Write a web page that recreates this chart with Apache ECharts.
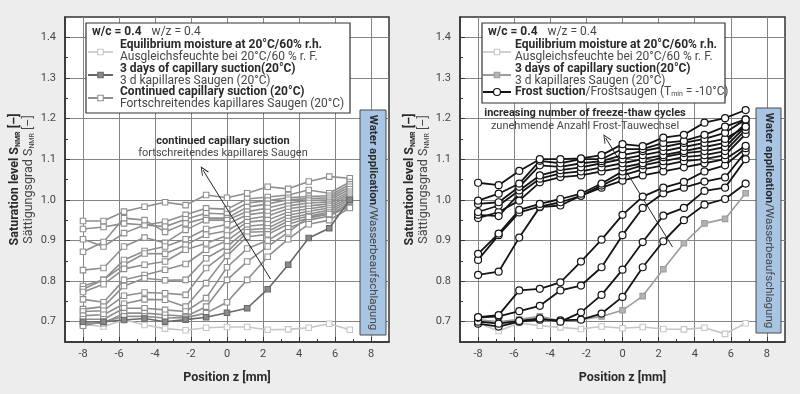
<!DOCTYPE html>
<html><head><meta charset="utf-8">
<script src="https://cdn.jsdelivr.net/npm/echarts@6/dist/echarts.min.js"></script>
<style>html,body{margin:0;padding:0;background:#ecedec;}#c{width:800px;height:394px;}</style>
</head><body><div id="c"></div>
<script>
// ---------- data ----------
const positions = [-8, -6.86, -5.72, -4.58, -3.44, -2.3, -1.16, 0, 1.12, 2.26, 3.4, 4.54, 5.68, 6.82];
const xMajorTicks = [-8, -6, -4, -2, 0, 2, 4, 6, 8];
const xMinorTicks = [-7, -5, -3, -1, 1, 3, 5, 7];
const yMajorTicks = [0.7, 0.8, 0.9, 1.0, 1.1, 1.2, 1.3, 1.4];
const yMinorTicks = [0.75, 0.85, 0.95, 1.05, 1.15, 1.25, 1.35];

// left panel
const leftEquilibrium = [0.693, 0.688, 0.705, 0.692, 0.683, 0.679, 0.685, 0.687, 0.687, 0.680, 0.681, 0.685, 0.695, 0.680];
const leftThreeDays = [0.700, 0.700, 0.704, 0.708, 0.700, 0.705, 0.711, 0.722, 0.733, 0.780, 0.840, 0.906, 0.930, 1.000];
const leftContinued = [
  [0.948, 0.948, 0.971, 0.983, 0.994, 0.987, 1.012, 1.005, 1.016, 1.032, 1.027, 1.045, 1.057, 1.053],
  [0.928, 0.933, 0.942, 0.938, 0.946, 0.963, 0.979, 0.977, 1.002, 1.007, 1.012, 1.024, 1.016, 1.044],
  [0.903, 0.885, 0.918, 0.938, 0.934, 0.952, 0.967, 0.965, 0.992, 0.998, 1.005, 1.008, 1.010, 1.038],
  [0.872, 0.896, 0.955, 0.950, 0.921, 0.942, 0.955, 0.955, 0.982, 0.990, 1.000, 1.003, 1.005, 1.032],
  [0.827, 0.832, 0.885, 0.907, 0.894, 0.926, 0.950, 0.950, 0.971, 0.980, 0.992, 0.998, 1.000, 1.026],
  [0.788, 0.803, 0.852, 0.874, 0.885, 0.903, 0.928, 0.940, 0.963, 0.970, 0.985, 0.992, 0.995, 1.020],
  [0.780, 0.803, 0.840, 0.868, 0.867, 0.889, 0.914, 0.924, 0.952, 0.960, 0.978, 0.985, 0.990, 1.015],
  [0.773, 0.792, 0.830, 0.840, 0.848, 0.877, 0.893, 0.912, 0.945, 0.950, 0.970, 0.978, 0.985, 1.010],
  [0.755, 0.748, 0.803, 0.815, 0.828, 0.842, 0.877, 0.899, 0.935, 0.940, 0.962, 0.972, 0.980, 1.005],
  [0.731, 0.737, 0.788, 0.807, 0.802, 0.803, 0.856, 0.885, 0.926, 0.930, 0.955, 0.965, 0.975, 1.000],
  [0.725, 0.727, 0.764, 0.772, 0.770, 0.766, 0.832, 0.871, 0.920, 0.922, 0.948, 0.960, 0.970, 0.995],
  [0.715, 0.717, 0.744, 0.755, 0.754, 0.737, 0.795, 0.862, 0.909, 0.915, 0.940, 0.955, 0.965, 0.990],
  [0.706, 0.706, 0.733, 0.733, 0.729, 0.725, 0.758, 0.834, 0.880, 0.900, 0.930, 0.950, 0.960, 0.985],
  [0.696, 0.696, 0.721, 0.721, 0.717, 0.713, 0.737, 0.803, 0.848, 0.885, 0.920, 0.958, 0.965, 0.982],
  [0.690, 0.700, 0.713, 0.713, 0.709, 0.710, 0.721, 0.748, 0.803, 0.860, 0.903, 0.940, 0.950, 0.980]
];

// right panel
const rightEquilibrium = [0.697, 0.677, 0.697, 0.690, 0.686, 0.682, 0.688, 0.684, 0.687, 0.682, 0.681, 0.685, 0.670, 0.696];
const rightThreeDays = [0.705, 0.700, 0.706, 0.713, 0.702, 0.705, 0.713, 0.728, 0.763, 0.829, 0.893, 0.942, 0.953, 1.016];
const rightFrost = [
  [0.695, 0.688, 0.700, 0.705, 0.703, 0.705, 0.720, 0.761, 0.834, 0.898, 0.950, 0.988, 1.002, 1.040],
  [0.700, 0.695, 0.702, 0.708, 0.700, 0.723, 0.766, 0.828, 0.896, 0.961, 0.980, 1.022, 1.030, 1.100],
  [0.710, 0.713, 0.726, 0.739, 0.777, 0.789, 0.834, 0.913, 0.980, 1.016, 1.030, 1.045, 1.055, 1.118],
  [0.711, 0.716, 0.777, 0.781, 0.797, 0.848, 0.902, 0.963, 1.008, 1.030, 1.044, 1.070, 1.085, 1.127],
  [0.815, 0.823, 0.907, 0.982, 0.986, 1.010, 1.030, 1.047, 1.060, 1.070, 1.080, 1.090, 1.100, 1.133],
  [0.852, 0.913, 0.969, 0.983, 0.994, 1.010, 1.035, 1.060, 1.075, 1.085, 1.095, 1.100, 1.110, 1.162],
  [0.867, 0.917, 0.975, 0.990, 1.002, 1.015, 1.040, 1.070, 1.085, 1.095, 1.105, 1.110, 1.120, 1.172],
  [0.955, 0.970, 0.998, 1.043, 1.056, 1.060, 1.070, 1.080, 1.090, 1.105, 1.115, 1.120, 1.130, 1.180],
  [0.963, 0.960, 1.015, 1.052, 1.065, 1.070, 1.080, 1.090, 1.100, 1.110, 1.120, 1.130, 1.140, 1.188],
  [0.970, 0.986, 1.023, 1.060, 1.073, 1.080, 1.090, 1.100, 1.110, 1.120, 1.130, 1.140, 1.150, 1.180],
  [0.990, 0.994, 1.032, 1.085, 1.081, 1.090, 1.095, 1.110, 1.120, 1.130, 1.140, 1.150, 1.165, 1.198],
  [0.998, 1.015, 1.040, 1.096, 1.090, 1.100, 1.100, 1.125, 1.125, 1.140, 1.145, 1.160, 1.180, 1.198],
  [1.042, 1.036, 1.071, 1.100, 1.100, 1.102, 1.110, 1.137, 1.132, 1.153, 1.160, 1.190, 1.201, 1.221]
];

// annotation arrows (data coordinates)
const leftArrow = [[2.42, 0.805], [-1.33, 1.073]];
const rightArrow = [[2.77, 0.884], [-0.93, 1.152]];

// ---------- chart ----------
const F = 'Roboto';
const C_EQ = '#c6c6c6', C_CONT = '#8e8e8e', C_3D_L = '#686868', C_3D_R = '#9c9c9c', C_BLK = '#141414';
const TXT_B = '#2a2a2a', TXT_N = '#474747';
const LG = 12; // legend font size
const pts = vals => positions.map((x, i) => [x, vals[i]]);
const chevron = 'path://M5,0 L10,10 L8.8,10 L5,2.4 L1.2,10 L0,10 Z';

function sqSeries(vals, gi, line, fill, border, width, z) {
  return {
    type: 'line', xAxisIndex: gi * 2, yAxisIndex: gi * 2, data: pts(vals),
    symbol: 'rect', symbolSize: 5.5, showSymbol: true, z: z,
    lineStyle: { color: line, width: width },
    itemStyle: { color: fill, borderColor: border, borderWidth: 1.1 },
    emphasis: { disabled: true }, silent: true
  };
}
function circSeries(vals) {
  return {
    type: 'line', xAxisIndex: 2, yAxisIndex: 2, data: pts(vals),
    symbol: 'circle', symbolSize: 7, z: 5,
    lineStyle: { color: C_BLK, width: 1.8 },
    itemStyle: { color: '#fff', borderColor: C_BLK, borderWidth: 1.2 },
    emphasis: { disabled: true }, silent: true
  };
}
function arrowMark(a) {
  return {
    silent: true, animation: false,
    symbol: ['none', chevron], symbolSize: [8, 9],
    lineStyle: { color: '#222', width: 1, type: 'solid' },
    label: { show: false }, emphasis: { disabled: true },
    data: [[{ coord: a[0] }, { coord: a[1] }]]
  };
}

const yRich = {
  b: { fontFamily: F, fontWeight: 'bold', fontSize: 12.5, color: TXT_B, lineHeight: 14 },
  bs: { fontFamily: F, fontWeight: 'bold', fontSize: 7, color: TXT_B, lineHeight: 7, verticalAlign: 'bottom' },
  n: { fontFamily: F, fontSize: 12.5, color: TXT_N, lineHeight: 14 },
  ns: { fontFamily: F, fontSize: 7, color: TXT_N, lineHeight: 7, verticalAlign: 'bottom' }
};
const yName = '{b|Saturation level S}{bs|NMR}{b| [–]}\n{n|Sättigungsgrad S}{ns|NMR}{n| [–]}';

function xMain(gi) {
  return {
    type: 'value', gridIndex: gi, min: -9, max: 9, position: 'bottom',
    name: 'Position z [mm]', nameLocation: 'middle', nameGap: 29,
    nameTextStyle: { fontFamily: F, fontWeight: 'bold', fontSize: 12.5, color: TXT_B },
    axisLine: { show: true, onZero: false, lineStyle: { color: '#333', width: 1.5 } },
    axisTick: { show: true, inside: true, length: 5, customValues: xMajorTicks, lineStyle: { color: '#333' } },
    axisLabel: { customValues: xMajorTicks, fontFamily: F, fontSize: 11, color: TXT_N, margin: 7 },
    splitLine: { show: true, lineStyle: { color: '#858585', width: 1 } }
  };
}
function xMinor(gi) {
  return {
    type: 'value', gridIndex: gi, min: -9, max: 9, position: 'bottom',
    axisLine: { show: false, onZero: false }, splitLine: { show: false }, axisLabel: { show: false },
    axisTick: { show: true, inside: true, length: 3, customValues: xMinorTicks, lineStyle: { color: '#333' } }
  };
}
function yMain(gi) {
  return {
    type: 'value', gridIndex: gi, min: 0.65, max: 1.45, position: 'left',
    name: yName, nameLocation: 'middle', nameGap: 29, nameRotate: 90,
    nameTextStyle: { rich: yRich },
    axisLine: { show: true, onZero: false, lineStyle: { color: '#333', width: 1.5 } },
    axisTick: { show: true, inside: true, length: 5, customValues: yMajorTicks, lineStyle: { color: '#333' } },
    axisLabel: { customValues: yMajorTicks, fontFamily: F, fontSize: 11, color: TXT_N, margin: 9,
      formatter: v => v.toFixed(1) },
    splitLine: { show: true, lineStyle: { color: '#858585', width: 1 } }
  };
}
function yMinor(gi) {
  return {
    type: 'value', gridIndex: gi, min: 0.65, max: 1.45, position: 'left',
    axisLine: { show: false, onZero: false }, splitLine: { show: false }, axisLabel: { show: false },
    axisTick: { show: true, inside: true, length: 3, customValues: yMinorTicks, lineStyle: { color: '#333' } }
  };
}

const series = [];
const eqL = sqSeries(leftEquilibrium, 0, C_EQ, '#fff', C_EQ, 1.6, 2);
eqL.markLine = arrowMark(leftArrow);
series.push(eqL);
leftContinued.forEach(v => series.push(sqSeries(v, 0, C_CONT, '#fff', C_CONT, 1.6, 3)));
series.push(sqSeries(leftThreeDays, 0, C_3D_L, '#8a8a8a', C_3D_L, 1.6, 4));
const eqR = sqSeries(rightEquilibrium, 1, C_EQ, '#fff', C_EQ, 1.6, 2);
eqR.markLine = arrowMark(rightArrow);
series.push(eqR);
series.push(sqSeries(rightThreeDays, 1, C_3D_R, '#b4b4b4', C_3D_R, 1.6, 3));
rightFrost.forEach(v => series.push(circSeries(v)));

// ---------- graphic (legends, annotations, boxes) ----------
const tb = (t, x, y, size) => ({ type: 'text', silent: true, z: 100, style: { text: t, x, y, fill: TXT_B, font: `bold ${size || LG}px ${F}`, verticalAlign: 'middle', textVerticalAlign: 'middle' } });
const tn = (t, x, y, size) => ({ type: 'text', silent: true, z: 100, style: { text: t, x, y, fill: TXT_N, font: `${size || LG}px ${F}`, verticalAlign: 'middle', textVerticalAlign: 'middle' } });
function richText(t, x, y, rich, align) {
  return { type: 'text', silent: true, z: 100, style: { text: t, x, y, rich, align: align || 'left', textAlign: align || 'left', verticalAlign: 'middle', textVerticalAlign: 'middle' } };
}
const mkRich = size => ({
  b: { fontFamily: F, fontWeight: 'bold', fontSize: size, fill: TXT_B, color: TXT_B },
  n: { fontFamily: F, fontSize: size, fill: TXT_N, color: TXT_N },
  s: { fontFamily: F, fontSize: 7, fill: TXT_N, color: TXT_N, lineHeight: 7, verticalAlign: 'bottom' }
});
const lgRich = mkRich(LG);
const anRich = mkRich(11);
function sample(x1, x2, y, color, width, kind, fill) {
  const els = [{ type: 'line', silent: true, z: 100, shape: { x1, y1: y, x2, y2: y }, style: { stroke: color, lineWidth: width } }];
  const cx = (x1 + x2) / 2;
  if (kind === 'rect') els.push({ type: 'rect', silent: true, z: 101, shape: { x: cx - 2.75, y: y - 2.75, width: 5.5, height: 5.5 }, style: { fill: fill, stroke: color, lineWidth: 1.1 } });
  else els.push({ type: 'circle', silent: true, z: 101, shape: { cx, cy: y, r: 3.5 }, style: { fill: '#fff', stroke: color, lineWidth: 1.2 } });
  return els;
}
function waterBox(x, y, w, h) {
  return [
    { type: 'rect', silent: true, z: 90, shape: { x, y, width: w, height: h }, style: { fill: '#a8c6e4', stroke: '#4a4a4a', lineWidth: 1 } },
    { type: 'text', silent: true, z: 91, x: x + w / 2, y: y + h / 2, rotation: -Math.PI / 2,
      style: { text: '{b|Water application}{n|/Wasserbeaufschlagung}', x: 0, y: 0, align: 'center', textAlign: 'center', verticalAlign: 'middle', textVerticalAlign: 'middle', rich: mkRich(11.5) } }
  ];
}

const graphic = [].concat(
  // left legend
  [{ type: 'rect', silent: true, z: 99, shape: { x: 86, y: 23, width: 264, height: 90 }, style: { fill: '#fff', stroke: '#333', lineWidth: 1.2 } }],
  [richText('{b|w/c = 0.4}   {n|w/z = 0.4}', 92, 32, lgRich)],
  sample(88, 113, 52, C_EQ, 1.6, 'rect', '#fff'),
  [tb('Equilibrium moisture at 20°C/60% r.h.', 120, 45), tn('Ausgleichsfeuchte bei 20°C/60 % r. F.', 120, 57)],
  sample(88, 113, 75, C_3D_L, 2, 'rect', '#8a8a8a'),
  [tb('3 days of capillary suction(20°C)', 120, 69), tn('3 d kapillares Saugen (20°C)', 120, 81)],
  sample(88, 113, 98, C_CONT, 2, 'rect', '#fff'),
  [tb('Continued capillary suction (20°C)', 120, 92), tn('Fortschreitendes kapillares Saugen (20°C)', 120, 104)],
  // right legend
  [{ type: 'rect', silent: true, z: 99, shape: { x: 482, y: 23, width: 243, height: 80 }, style: { fill: '#fff', stroke: '#333', lineWidth: 1.2 } }],
  [richText('{b|w/c = 0.4}   {n|w/z = 0.4}', 488, 32, lgRich)],
  sample(483, 511, 52, C_EQ, 1.6, 'rect', '#fff'),
  [tb('Equilibrium moisture at 20°C/60% r.h.', 515, 45), tn('Ausgleichsfeuchte bei 20°C/60 % r. F.', 515, 57)],
  sample(483, 511, 75, C_3D_R, 2, 'rect', '#b4b4b4'),
  [tb('3 days of capillary suction(20°C)', 515, 69), tn('3 d kapillares Saugen (20°C)', 515, 81)],
  sample(483, 511, 92, C_BLK, 2, 'circle'),
  [richText('{b|Frost suction}{n|/Frostsaugen (T}{s|min}{n| = -10°C)}', 515, 92, lgRich)],
  // annotations
  [richText('{b|continued capillary suction}', 223, 141, anRich, 'center'),
   richText('{n|fortschreitendes kapillares Saugen}', 223, 153, anRich, 'center'),
   richText('{b|increasing number of freeze-thaw cycles}', 585, 113, anRich, 'center'),
   richText('{n|zunehmende Anzahl Frost-Tauwechsel}', 585, 126, anRich, 'center')],
  waterBox(360, 110, 26, 225),
  waterBox(756, 108, 25, 225)
);

const chart = echarts.init(document.getElementById('c'), null, { renderer: 'canvas' });
chart.setOption({
  animation: false,
  backgroundColor: '#ecedec',
  grid: [
    { left: 65, top: 17, width: 324, height: 325, show: true, backgroundColor: '#fff', borderColor: '#333', borderWidth: 1.5 },
    { left: 460, top: 17, width: 325, height: 325, show: true, backgroundColor: '#fff', borderColor: '#333', borderWidth: 1.5 }
  ],
  xAxis: [xMain(0), xMinor(0), xMain(1), xMinor(1)],
  yAxis: [yMain(0), yMinor(0), yMain(1), yMinor(1)],
  series: series,
  graphic: graphic
});
</script></body></html>
